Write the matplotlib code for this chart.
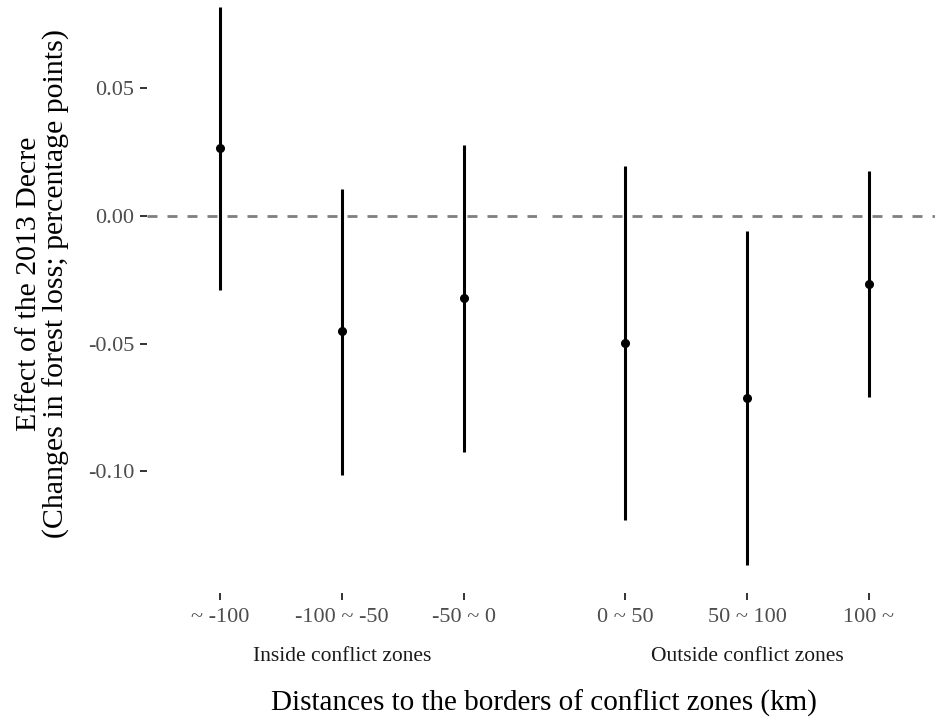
"""Coefficient plot: effect of the 2013 decree by distance to conflict zones."""
import matplotlib
matplotlib.use('Agg')
import matplotlib.pyplot as plt

plt.rcParams['font.family'] = ['Liberation Serif', 'DejaVu Serif']

# --- data ---
inside_labels = ["~ -100", "-100 ~ -50", "-50 ~ 0"]
inside_est = [0.0266, -0.0450, -0.0321]
inside_lo = [-0.0290, -0.1014, -0.0924]
inside_hi = [0.0818, 0.0106, 0.0278]

outside_labels = ["0 ~ 50", "50 ~ 100", "100 ~"]
outside_est = [-0.0497, -0.0713, -0.0266]
outside_lo = [-0.1190, -0.1367, -0.0709]
outside_hi = [0.0196, -0.0059, 0.0176]

yticks = [-0.10, -0.05, 0.00, 0.05]
ytick_labels = ["-0.10", "-0.05", "0.00", "0.05"]

W, H = 935, 721
fig = plt.figure(figsize=(W / 100, H / 100), dpi=100)


def px_axes(left, right, top, bottom):
    # pixel box (from top-left) -> figure fraction
    return fig.add_axes([left / W, 1 - bottom / H, (right - left) / W, (bottom - top) / H])


TOP, BOTTOM = -21, 593
ax1 = px_axes(147, 537, TOP, BOTTOM)
ax2 = px_axes(552, 942, TOP, BOTTOM)

panels = [
    (ax1, inside_labels, inside_est, inside_lo, inside_hi, "Inside conflict zones"),
    (ax2, outside_labels, outside_est, outside_lo, outside_hi, "Outside conflict zones"),
]

for ax, labels, est, lo, hi, strip in panels:
    x = list(range(len(labels)))
    ax.axhline(0, color="#7f7f7f", linewidth=2.0, dashes=(3.6, 3.6), zorder=1)
    ax.vlines(x, lo, hi, color="black", linewidth=2.2, zorder=2)
    ax.plot(x, est, "o", color="black", markersize=5.5, zorder=3)
    ax.set_xlim(-0.6, 2.6)
    ax.set_ylim(-0.1476, 0.0927)
    for s in ax.spines.values():
        s.set_visible(False)
    ax.set_xticks(x)
    ax.set_xticklabels(labels, fontsize=16, color="#4d4d4d")
    ax.tick_params(axis='x', length=5, width=1.4, color="#333333", pad=6)
    ax.text(0.5, -0.104, strip, transform=ax.transAxes, ha="center", va="center",
            fontsize=15.5, color="#1a1a1a")

ax1.set_yticks(yticks)
ax1.set_yticklabels(ytick_labels, fontsize=16, color="#4d4d4d")
ax1.tick_params(axis='y', length=5, width=1.4, color="#333333", pad=4)
ax2.set_yticks([])

fig.text(43 / W, 1 - 284 / H,
         "Effect of the 2013 Decre\n(Changes in forest loss; percentage points)",
         rotation=90, ha="center", va="center", multialignment="center",
         fontsize=21.5, linespacing=1.05)
fig.text(544 / W, 1 - 703 / H, "Distances to the borders of conflict zones (km)",
         ha="center", va="center", fontsize=21)

fig.savefig("out.png", dpi=100)
